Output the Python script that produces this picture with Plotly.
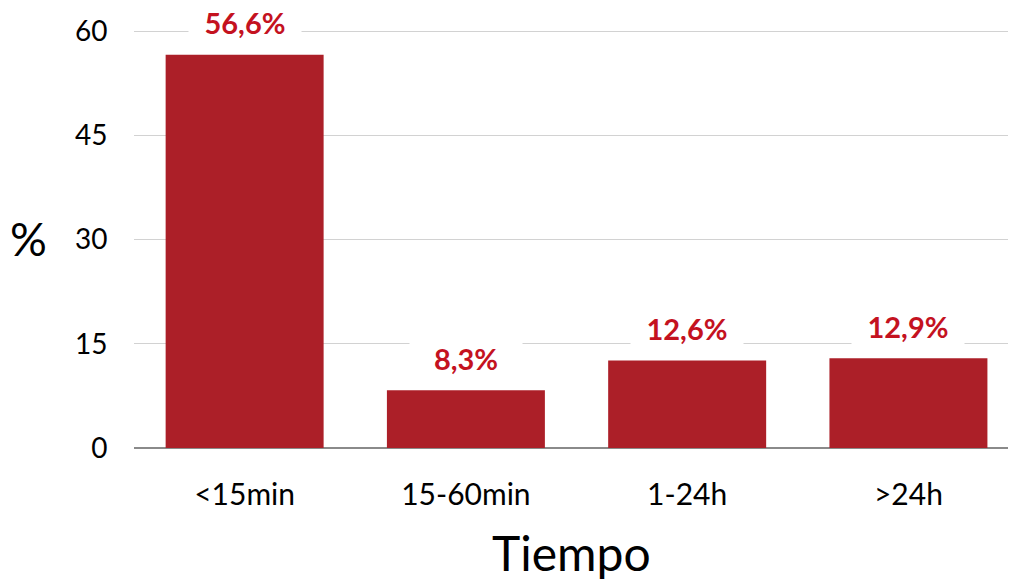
import plotly.graph_objects as go

categories = ["<15min", "15-60min", "1-24h", ">24h"]
values = [56.6, 8.3, 12.6, 12.9]
labels = ["56,6%", "8,3%", "12,6%", "12,9%"]
y_ticks = [0, 15, 30, 45, 60]

FONT = "Lato, 'Open Sans', sans-serif"
BAR = "#AC1F28"
LBL = "#C4121F"

fig = go.Figure()
fig.add_trace(go.Bar(
    x=categories, y=values,
    marker=dict(color=BAR, line=dict(width=0)),
    hoverinfo="skip",
))

for c, v, t in zip(categories, values, labels):
    fig.add_annotation(
        x=c, y=v, xref="x", yref="y", text=t, showarrow=False,
        yshift=32, bgcolor="white", borderpad=2, width=108,
        font=dict(family=FONT, size=29, color=LBL, weight="bold"),
    )

fig.add_annotation(x=-0.121, y=0.5, xref="paper", yref="paper", text="%",
                   xanchor="center", yanchor="middle",
                   showarrow=False, font=dict(family=FONT, size=46, color="black"))
fig.add_annotation(x=0.5, y=-0.25, xref="paper", yref="paper", text="Tiempo",
                   xanchor="center", yanchor="middle",
                   showarrow=False, font=dict(family=FONT, size=48, color="black"))

fig.update_layout(
    width=1010, height=585,
    margin=dict(l=134, r=2, t=29, b=137),
    paper_bgcolor="white", plot_bgcolor="white",
    bargap=0.286,
    showlegend=False,
    xaxis=dict(
        range=[-0.5, 3.45], showgrid=False, showline=False, zeroline=False,
        tickfont=dict(family=FONT, size=30, color="black"),
        ticks="outside", ticklen=20, tickcolor="rgba(0,0,0,0)",
    ),
    yaxis=dict(
        range=[0, 60.3], tickvals=y_ticks, showgrid=True, gridcolor="#d2d2d2", gridwidth=1,
        zeroline=True, zerolinecolor="#8a8a8a", zerolinewidth=2, showline=False,
        tickfont=dict(family=FONT, size=28, color="black"),
        ticks="outside", ticklen=20, tickcolor="rgba(0,0,0,0)",
    ),
)

fig.write_html("out.html", config={"displayModeBar": False},
               post_script="document.body.style.margin='0px';")
